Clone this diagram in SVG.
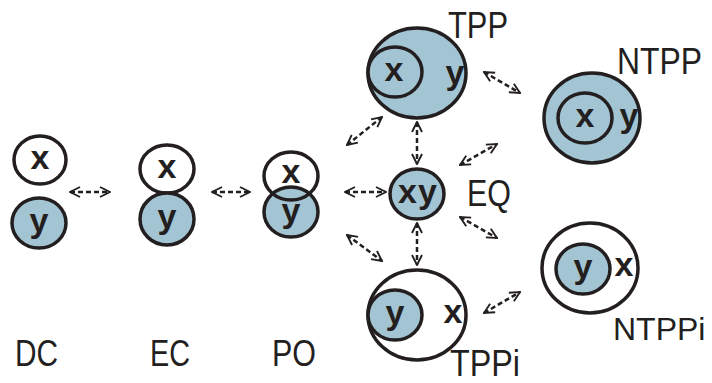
<svg xmlns="http://www.w3.org/2000/svg" width="712" height="383" viewBox="0 0 712 383">
<defs>
<style>
.c{stroke:#231f20;stroke-width:3.5;fill:#fff}
.n{stroke:#231f20;stroke-width:3.5;fill:none}
.f{fill:#a3c4d3}
.v{font-family:"Liberation Sans",Arial,sans-serif;font-weight:bold;font-size:34px;fill:#231f20;text-anchor:middle}
.l{font-family:"Liberation Sans",Arial,sans-serif;font-size:36px;fill:#231f20}
.a{stroke:#231f20;stroke-width:2.5;stroke-dasharray:5 3;fill:none;marker-start:url(#h);marker-end:url(#h)}
</style>
<marker id="h" viewBox="0 0 10 10" refX="9" refY="5" markerWidth="5" markerHeight="5" orient="auto-start-reverse" markerUnits="strokeWidth">
<path d="M1,1 L9,5 L1,9" fill="none" stroke="#231f20" stroke-width="1.5"/>
</marker>
</defs>
<rect width="712" height="383" fill="#fff"/>
<g id="connectors">
<line class="a" x1="70" y1="192" x2="110" y2="192"/>
<line class="a" x1="212" y1="192" x2="250" y2="192"/>
<line class="a" x1="345" y1="192" x2="386" y2="192"/>
<line class="a" x1="347" y1="145" x2="382" y2="117"/>
<line class="a" x1="347" y1="235" x2="382" y2="261"/>
<line class="a" x1="417" y1="122" x2="417" y2="164"/>
<line class="a" x1="417" y1="223" x2="417" y2="265"/>
<line class="a" x1="484" y1="72" x2="520" y2="93"/>
<line class="a" x1="460" y1="165" x2="497" y2="144"/>
<line class="a" x1="460" y1="217" x2="497" y2="238"/>
<line class="a" x1="484" y1="313" x2="520" y2="292"/>
</g>
<g id="DC">
<ellipse class="c" cx="40" cy="160" rx="26" ry="24"/>
<ellipse class="c f" cx="39" cy="223" rx="27" ry="25"/>
<text class="v" x="40" y="169">x</text>
<text class="v" x="39" y="232">y</text>
<text class="l" x="15" y="366" textLength="43" lengthAdjust="spacingAndGlyphs">DC</text>
</g>
<g id="EC">
<ellipse class="c" cx="167" cy="169" rx="27" ry="24"/>
<ellipse class="c f" cx="167" cy="219" rx="27" ry="26"/>
<text class="v" x="167" y="178">x</text>
<text class="v" x="167" y="228">y</text>
<text class="l" x="150" y="366" textLength="40" lengthAdjust="spacingAndGlyphs">EC</text>
</g>
<g id="PO">
<ellipse class="c f" cx="291" cy="212" rx="27" ry="25"/>
<ellipse class="n" cx="291" cy="176" rx="27" ry="24"/>
<text class="v" x="291" y="183">x</text>
<text class="v" x="291" y="222">y</text>
<text class="l" x="272" y="366" textLength="44" lengthAdjust="spacingAndGlyphs">PO</text>
</g>
<g id="TPP">
<ellipse class="c f" cx="417" cy="73" rx="49" ry="45"/>
<ellipse class="c f" cx="395" cy="72" rx="27" ry="25"/>
<text class="v" x="394" y="81">x</text>
<text class="v" x="455" y="84">y</text>
<text class="l" x="448" y="38" textLength="60" lengthAdjust="spacingAndGlyphs">TPP</text>
</g>
<g id="NTPP">
<ellipse class="c f" cx="592" cy="118" rx="48" ry="45"/>
<ellipse class="c f" cx="585" cy="118" rx="27" ry="25"/>
<text class="v" x="585" y="127">x</text>
<text class="v" x="629" y="127">y</text>
<text class="l" x="617" y="74" textLength="85" lengthAdjust="spacingAndGlyphs">NTPP</text>
</g>
<g id="EQ">
<ellipse class="c f" cx="417" cy="194" rx="27" ry="25"/>
<text class="v" x="418" y="203" letter-spacing="1">xy</text>
<text class="l" x="467" y="206" textLength="44" lengthAdjust="spacingAndGlyphs">EQ</text>
</g>
<g id="TPPi">
<ellipse class="c" cx="417" cy="315" rx="49" ry="45"/>
<ellipse class="c f" cx="395" cy="315" rx="27" ry="25"/>
<text class="v" x="395" y="324">y</text>
<text class="v" x="453" y="323">x</text>
<text class="l" x="450" y="376" textLength="70" lengthAdjust="spacingAndGlyphs">TPPi</text>
</g>
<g id="NTPPi">
<ellipse class="c" cx="590" cy="268" rx="48" ry="45"/>
<ellipse class="c f" cx="583" cy="269" rx="27" ry="25"/>
<text class="v" x="583" y="278">y</text>
<text class="v" x="624" y="276">x</text>
<text class="l" x="613" y="340" style="font-size:32px">NTPPi</text>
</g>
</svg>
